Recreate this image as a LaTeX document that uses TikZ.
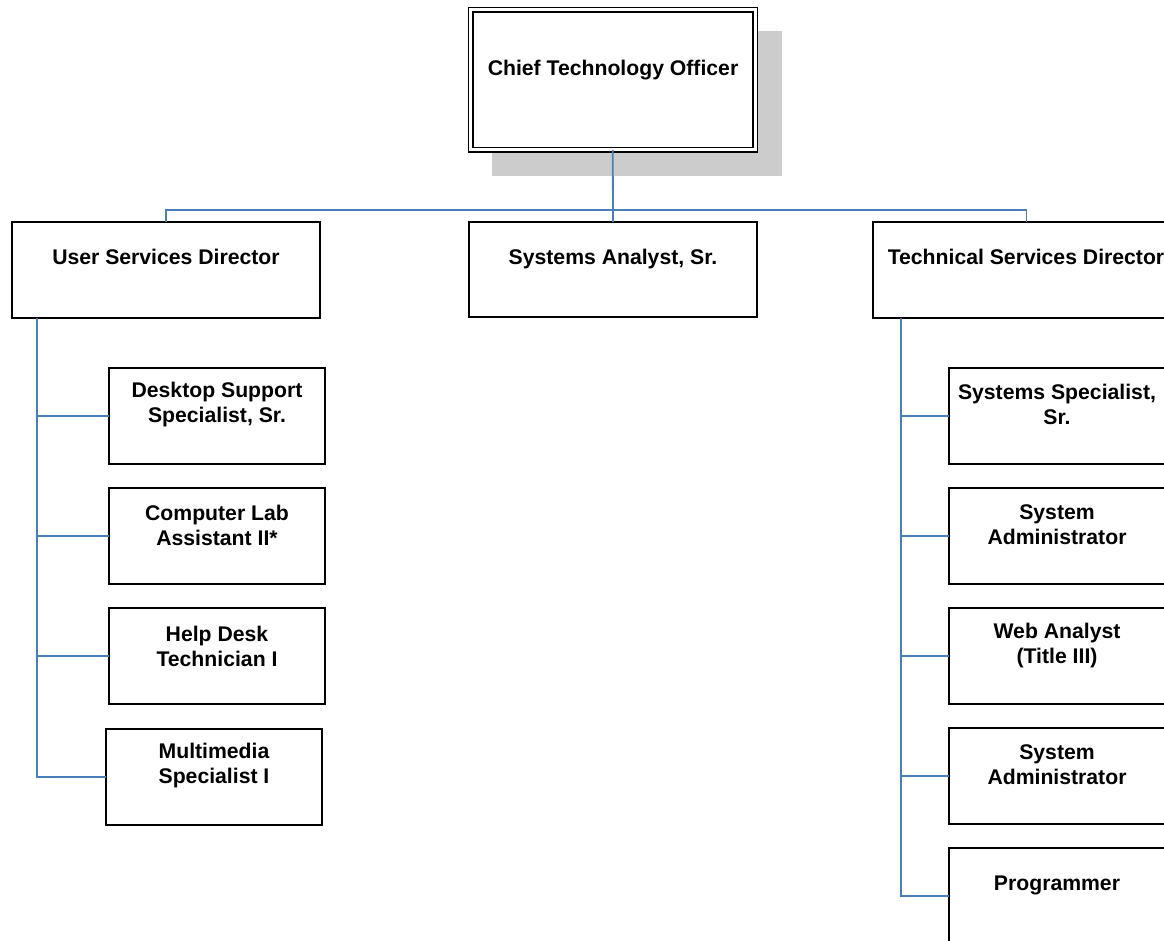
\documentclass[tikz,border=0pt]{standalone}
\usepackage{fontspec}
\setmainfont{Liberation Sans}
\usepackage{xcolor}
\usepackage{tikz}
\definecolor{linkblue}{RGB}{74,126,187}
\definecolor{shadowgray}{RGB}{204,204,204}
\tikzset{
  orgbox/.style={draw=black,fill=white,line width=1.8pt,inner sep=0pt,outer sep=0pt,minimum width=216pt,minimum height=96pt},
  orgtext/.style={font=\fontsize{21.2}{25}\selectfont\bfseries,align=center,inner sep=0pt},
  link/.style={draw=linkblue,line width=1.8pt}
}

\begin{document}
\begin{tikzpicture}[line cap=butt,line join=miter,x=1pt,y=-1pt]
\useasboundingbox (0,0) rectangle (1164,941);
\clip (0,0) rectangle (1164,941);
\fill[shadowgray] (492,31) rectangle (782,176);
\node[orgbox,double,double distance=3pt,line width=1.5pt,minimum width=284.5pt,minimum height=140pt] (cto) at (612.75,80) {};
\node[orgbox,minimum width=308pt] (usd) at (166,270) {};
\node[orgbox,minimum width=288pt,minimum height=95pt] (sas) at (613,269.5) {};
\node[orgbox,minimum width=307pt] (tsd) at (1026.5,270) {};
\node[orgbox] (dss) at (217,416) {};
\node[orgbox] (cla) at (217,536) {};
\node[orgbox] (hdt) at (217,656) {};
\node[orgbox] (mms) at (214,777) {};
\node[orgbox,minimum width=221pt] (sss) at (1059.5,416) {};
\node[orgbox,minimum width=221pt] (sa1) at (1059.5,536) {};
\node[orgbox,minimum width=221pt] (wan) at (1059.5,656) {};
\node[orgbox,minimum width=221pt] (sa2) at (1059.5,776) {};
\node[orgbox,minimum width=221pt] (prg) at (1059.5,896) {};
\coordinate (bus) at (613,210);
\coordinate (usdStem) at (37,318);
\coordinate (tsdStem) at (901,318);
\draw[link] (cto.south) -- (sas.north);
\draw[link] (usd.north) |- (bus) -| (tsd.north);
\foreach \c in {dss,cla,hdt,mms}
  \draw[link] (usdStem) |- (\c.west);
\foreach \c in {sss,sa1,wan,sa2,prg}
  \draw[link] (tsdStem) |- (\c.west);
\node[orgtext] (ctoText) at (613,70) {Chief Technology Officer};
\node[orgtext] (usdText) at (166,257) {User Services Director};
\node[orgtext] (sasText) at (613,259) {Systems Analyst, Sr.};
\node[orgtext] (tsdText) at (1026,257) {Technical Services Director};
\node[orgtext] (dssText) at (217,405) {Desktop Support\\Specialist, Sr.};
\node[orgtext] (claText) at (217,525) {Computer Lab\\Assistant II*};
\node[orgtext] (hdtText) at (217,646) {Help Desk\\Technician I};
\node[orgtext] (mmsText) at (214,766) {Multimedia\\Specialist I};
\node[orgtext] (sssText) at (1057,404) {Systems Specialist,\\Sr.};
\node[orgtext] (sa1Text) at (1057,525) {System\\Administrator};
\node[orgtext] (wanText) at (1057,646) {Web Analyst\\(Title III)};
\node[orgtext] (sa2Text) at (1057,765) {System\\Administrator};
\node[orgtext] (prgText) at (1057,885) {Programmer};
\end{tikzpicture}
\end{document}
